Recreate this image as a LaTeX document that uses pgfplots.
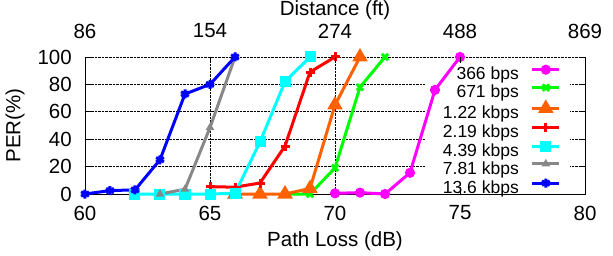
\documentclass[border=0pt]{standalone}
\usepackage{fontspec}
\setmainfont{Liberation Sans}
\usepackage{pgfplots}
\pgfplotsset{compat=1.18}
\definecolor{cmag}{RGB}{255,0,255}
\definecolor{cgreen}{RGB}{0,255,0}
\definecolor{corange}{RGB}{255,96,0}
\definecolor{cred}{RGB}{255,0,0}
\definecolor{ccyan}{RGB}{0,255,255}
\definecolor{cgray}{RGB}{136,136,136}
\definecolor{cblue}{RGB}{0,0,255}
\newcommand{\bigf}{\fontsize{20.5bp}{24bp}\selectfont}
\newcommand{\legf}{\fontsize{17.5bp}{21bp}\selectfont}
\begin{document}
\begin{tikzpicture}
\useasboundingbox (-85bp,-62bp) rectangle (528bp,194bp);
\begin{axis}[
  at={(0,0)}, anchor=south west,
  scale only axis, width=500bp, height=137bp,
  xmin=60, xmax=80, ymin=0, ymax=100,
  axis x line*=bottom, axis y line*=box,
  xtick={60,65,...,80}, ytick={0,20,...,100},
  /pgf/number format/assume math mode=true,
  tick label style={font=\bigf, inner sep=0pt},
  xticklabel style={anchor=center, yshift=-19bp},
  yticklabel style={anchor=east, xshift=-13bp},
  major tick length=6bp,
  tick style={black, line width=0.6bp},
  axis line style={black, line width=0.8bp},
  grid=major, grid style={densely dotted, black, line width=0.6bp},
  xlabel={Path Loss (dB)}, ylabel={PER(\%)},
  label style={font=\bigf},
  xlabel style={at={(axis description cs:0.5,-0.343)}, anchor=center},
  ylabel style={at={(axis description cs:-0.14,0.5)}, anchor=center},
  clip=false,
  every axis plot/.append style={line width=3bp},
  legend style={at={(axis description cs:0.974,0.9635)}, anchor=north east,
    draw=none, fill=none, inner xsep=11bp, inner ysep=4bp,
    font=\legf, column sep=12bp, row sep=0pt,
    nodes={inner sep=0pt, text height=13bp, text depth=4.5bp}},
  legend plot pos=right, legend cell align=right,
  legend image code/.code={\draw[mark repeat=2,mark phase=2,yshift=6bp] plot coordinates {(0bp,0bp) (13.5bp,0bp) (27bp,0bp)};},
]
\fill[white] (axis cs:73.6,5.1) rectangle (axis cs:79.4,97.8);
\addplot[color=cmag, mark=*, mark size=3.5bp] coordinates {(70,0.5)(71,1)(72,0)(73,15.5)(74,76)(75,100)};
\addlegendentry{366 bps}
\addplot[color=cgreen, mark=x, mark size=4.5bp] coordinates {(68,0)(69,0)(70,19)(71,78)(72,100)};
\addlegendentry{671 bps}
\addplot[color=corange, mark=triangle*, mark size=6bp] coordinates {(66,0)(67,0)(68,0)(69,4)(70,65)(71,100)};
\addlegendentry{1.22 kbps}
\addplot[color=cred, mark=+, mark size=4.5bp] coordinates {(65,5.3)(66,5)(67,8)(68,35)(69,89)(70,100)};
\addlegendentry{2.19 kbps}
\addplot[color=ccyan, mark=square*, mark size=4bp] coordinates {(62,0)(63,0)(64,0)(65,0)(66,0.5)(67,38)(68,82)(69,100)};
\addlegendentry{4.39 kbps}
\addplot[color=cgray, mark=triangle*, mark size=2bp] coordinates {(63,0)(64,3.5)(65,48.5)(66,100)};
\addlegendentry{7.81 kbps}
\addplot[color=cblue, mark=asterisk, mark size=4.5bp] coordinates {(60,0)(61,2.5)(62,3)(63,25)(64,73)(65,80)(66,100)};
\addlegendentry{13.6 kbps}
\end{axis}
\begin{axis}[
  at={(0,0)}, anchor=south west,
  scale only axis, width=500bp, height=137bp,
  xmin=60, xmax=80, ymin=0, ymax=100,
  axis x line*=top, hide y axis,
  x axis line style={draw=none},
  xtick={60,65,...,80}, xticklabels={86,154,274,488,869},
  tick label style={font=\bigf, inner sep=0pt},
  xticklabel style={anchor=center, yshift=26bp},
  major tick length=6bp,
  tick style={black, line width=0.6bp},
  xlabel={Distance (ft)},
  label style={font=\bigf},
  xlabel style={at={(axis description cs:0.5,1.343)}, anchor=center},
]
\end{axis}
\end{tikzpicture}
\end{document}
